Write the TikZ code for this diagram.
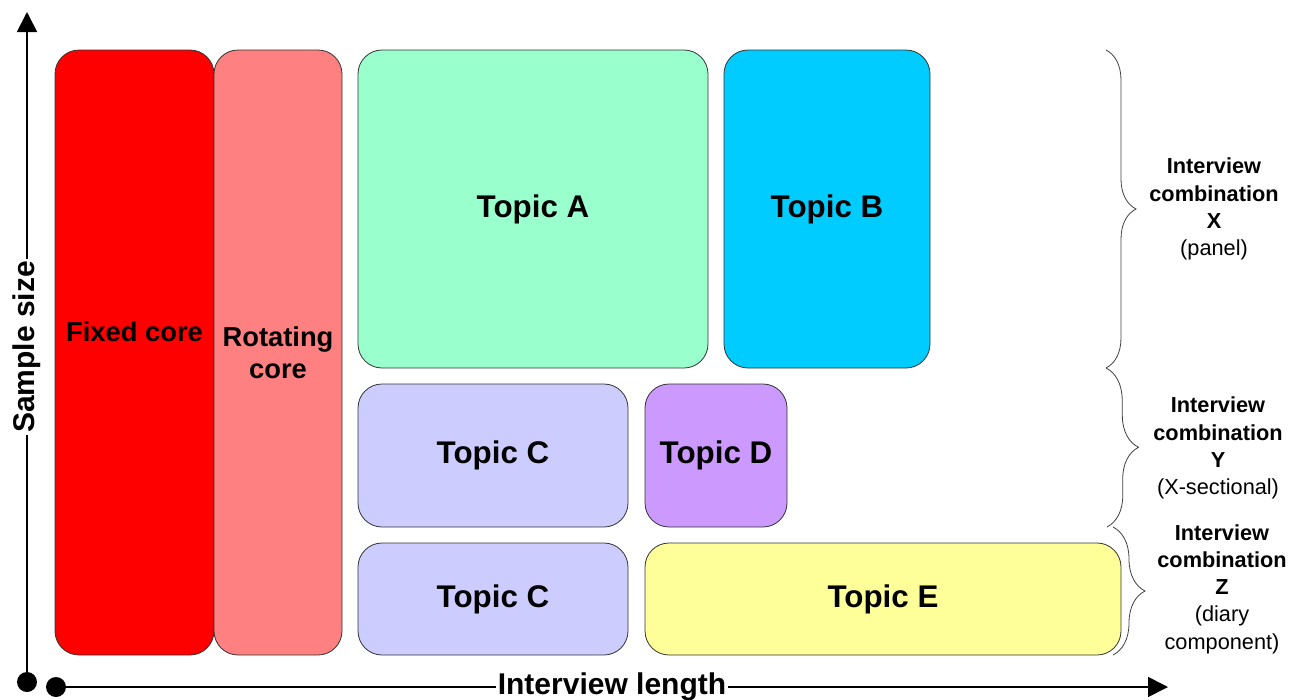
\documentclass[tikz,border=0pt]{standalone}
\usepackage{fontspec}
\setmainfont{Liberation Sans}
\usetikzlibrary{arrows.meta,decorations.pathreplacing}

\definecolor{fixedred}{HTML}{FF0000}
\definecolor{rotred}{HTML}{FF8080}
\definecolor{topica}{HTML}{99FFCC}
\definecolor{topicb}{HTML}{00CCFF}
\definecolor{topicc}{HTML}{CCCCFF}
\definecolor{topicd}{HTML}{CC99FF}
\definecolor{topice}{HTML}{FFFF99}

\begin{document}
\begin{tikzpicture}[x=0.75pt,y=-0.75pt,
  block/.style={draw=black!80,line width=0.6pt,rounded corners=18pt,inner sep=0pt,
    align=center,font=\bfseries\fontsize{20.5}{24}\selectfont},
  topic/.style={block,font=\bfseries\fontsize{23.5}{28}\selectfont},
  axis/.style={line width=1.3pt,-{Triangle[width=15pt,length=15pt]}},
  axislabel/.style={fill=white,inner sep=1.5pt,font=\bfseries\fontsize{22.5}{26}\selectfont},
  combo/.style={draw=black!75,line width=0.6pt,decorate},
  combolabel/.style={align=center,font=\fontsize{16.3}{20.4}\selectfont}]
\useasboundingbox (0,0) rectangle (1304,700);

% axes
\coordinate (o1) at (27,682);
\coordinate (o2) at (56,687);
\coordinate (ytip) at (27,12);
\coordinate (xtip) at (1168,687);
\draw[axis] (o1) -- (ytip) node[midway,axislabel,rotate=90] {Sample size};
\draw[axis] (o2) -- (xtip) node[midway,axislabel] {Interview length};
\fill[black] (o1) circle (7.5pt);
\fill[black] (o2) circle (7.5pt);

% cores
\node[block,fill=fixedred,minimum width=119.25pt,minimum height=453.75pt] (fixed) at (134.5,352.5) {Fixed core\\\strut};
\node[block,fill=rotred,minimum width=96pt,minimum height=453.75pt] (rotating) at (278,352.5) {Rotating\\core};

% topics
\node[topic,fill=topica,minimum width=262.5pt,minimum height=238.5pt] (tA) at (533,209) {Topic A};
\node[topic,fill=topicb,minimum width=154.5pt,minimum height=238.5pt] (tB) at (827,209) {Topic B};
\node[topic,fill=topicc,minimum width=202.5pt,minimum height=107.25pt] (tC1) at (493,455.5) {Topic C};
\node[topic,fill=topicd,minimum width=106.5pt,minimum height=107.25pt] (tD) at (716,455.5) {Topic D};
\node[topic,fill=topicc,minimum width=202.5pt,minimum height=84pt] (tC2) at (493,599) {Topic C};
\node[topic,fill=topice,minimum width=357pt,minimum height=84pt] (tE) at (883,599) {Topic E};

% interview combinations
\coordinate (bx1) at (1106,50);
\coordinate (bx2) at (1106,368);
\coordinate (by2) at (1107,527);
\coordinate (bz1) at (1113,527);
\coordinate (bz2) at (1113,655);
\draw[combo,decoration={brace,amplitude=22.5pt}] (bx1) -- (bx2);
\draw[combo,decoration={brace,amplitude=24pt}] (bx2) -- (by2);
\draw[combo,decoration={brace,amplitude=24pt}] (bz1) -- (bz2);

\node[combolabel] (cX) at (1214,209) {\textbf{Interview}\\\textbf{combination}\\\textbf{X}\\(panel)};
\node[combolabel] (cY) at (1218,448) {\textbf{Interview}\\\textbf{combination}\\\textbf{Y}\\(X-sectional)};
\node[combolabel] (cZ) at (1222,589) {\textbf{Interview}\\\textbf{combination}\\\textbf{Z}\\(diary\\component)};
\end{tikzpicture}
\end{document}
